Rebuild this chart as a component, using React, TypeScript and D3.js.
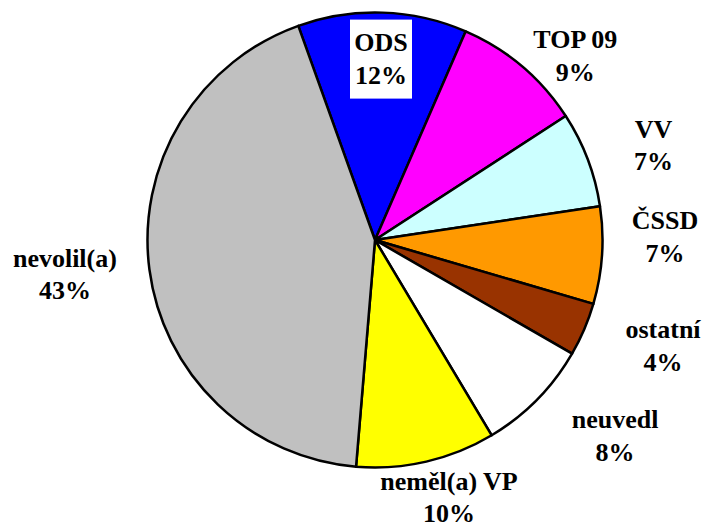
import React from 'react';
import * as d3 from 'd3';

// categories, values (%) and the printed labels
const categories = ['ODS', 'TOP 09', 'VV', 'ČSSD', 'ostatní', 'neuvedl', 'neměl(a) VP', 'nevolil(a)'];
const values = [12.0, 9.3, 6.8, 6.9, 3.8, 8.1, 9.9, 43.2];
const pctLabels = ['12%', '9%', '7%', '7%', '4%', '8%', '10%', '43%'];
const colors = ['#0000FF', '#FF00FF', '#CCFFFF', '#FF9900', '#993300', '#FFFFFF', '#FFFF00', '#C0C0C0'];

// label placement: angle nudge (deg) and distance from centre
const labelShift = [0, 7.2, 2.1, -4.4, -2.9, -5.3, -3, 1.1];
const labelDist = [181, 272, 294, 290, 307, 310, 268, 312];

const width = 703;
const height = 524;
const cx = 375;
const cy = 240;
const radius = 227.5;
const startDeg = -19.7;

const App = () => {
    const pie = d3.pie<number>()
        .sort(null)
        .startAngle(startDeg * Math.PI / 180)
        .endAngle(startDeg * Math.PI / 180 + 2 * Math.PI);
    const arcs = pie(values);

    const arc = d3.arc<d3.PieArcDatum<number>>()
        .innerRadius(0)
        .outerRadius(radius);

    const font = 'Liberation Serif, DejaVu Serif, Times New Roman';

    return (
        <svg width={width} height={height}
             style={{position: 'absolute', left: 0, top: 0, background: '#fff'}}>
            <g transform={`translate(${cx},${cy})`}>
                {arcs.map((a, i) => (
                    <path key={categories[i]} d={arc(a) || ''} fill={colors[i]}
                          stroke="#000" strokeWidth={2.5} strokeLinejoin="round"/>
                ))}
                {arcs.map((a, i) => {
                    const mid = (a.startAngle + a.endAngle) / 2 + labelShift[i] * Math.PI / 180;
                    const [x, y] = d3.pointRadial(mid, labelDist[i]);
                    const base = y - 8;
                    return (
                        <g key={'l' + i}>
                            {i === 0 && (
                                <rect x={x - 31} y={y - 39.5} width={62} height={79} fill="#fff"/>
                            )}
                            <text x={x} y={base} textAnchor="middle"
                                  style={{fontFamily: font, fontWeight: 700, fontSize: '26px'}} fill="#000">
                                <tspan x={x} y={base}>{categories[i]}</tspan>
                                <tspan x={x} y={base + 32.5}>{pctLabels[i]}</tspan>
                            </text>
                        </g>
                    );
                })}
            </g>
        </svg>
    );
};

export default App;
